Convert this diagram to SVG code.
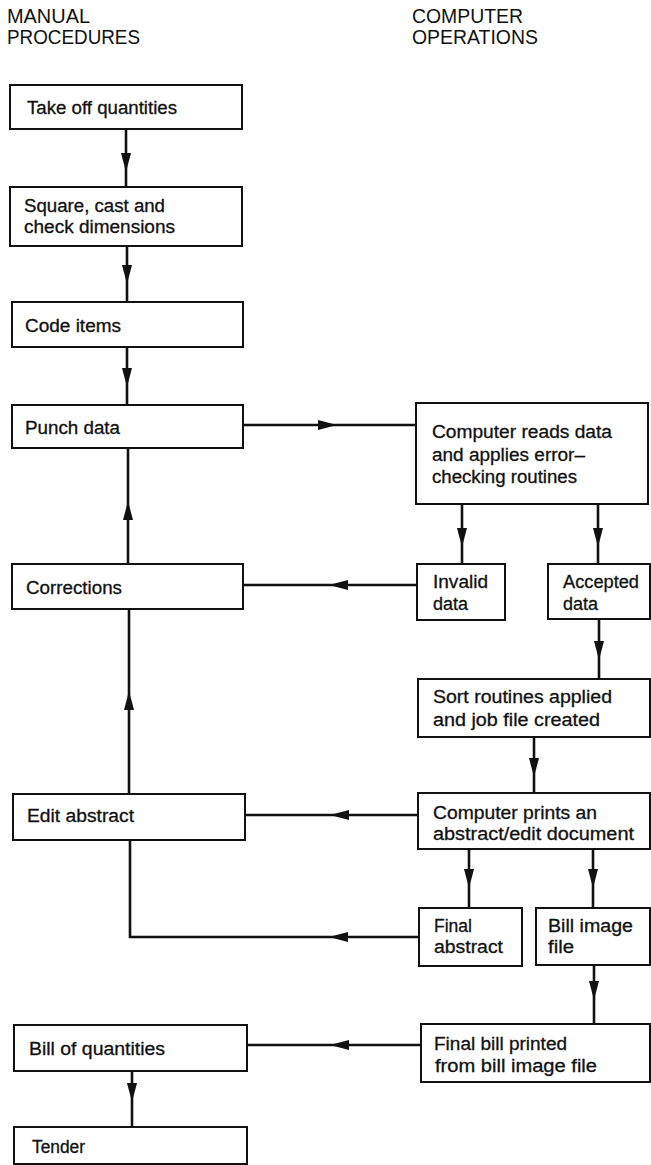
<svg xmlns="http://www.w3.org/2000/svg" xmlns:xlink="http://www.w3.org/1999/xlink" width="651" height="1165" viewBox="0 0 651 1165">
  <style>
    .box { fill: #ffffff; stroke: #111111; stroke-width: 2; }
    .lbl { font-family: "Liberation Sans", Arial, sans-serif; font-size: 18px; fill: #111111; stroke: #111111; stroke-width: 0.3; }
    .hdr { font-family: "Liberation Sans", Arial, sans-serif; font-size: 20px; fill: #111111; }
    .wire { fill: none; stroke: #111111; stroke-width: 2.6; }
    .head { fill: #111111; }
  </style>
  <defs>
    <!-- slim filled arrowhead, tip at the origin, pointing along +x -->
    <path id="ah" d="M0,0 L-19,-5 L-19,5 Z"/>
  </defs>
  <rect width="651" height="1165" fill="#ffffff"/>

  <!-- column headings -->
  <g id="heading-manual">
    <text class="hdr" x="7" y="23" textLength="83" lengthAdjust="spacingAndGlyphs">MANUAL</text>
    <text class="hdr" x="7" y="44" textLength="133" lengthAdjust="spacingAndGlyphs">PROCEDURES</text>
  </g>
  <g id="heading-computer">
    <text class="hdr" x="412" y="23" textLength="111" lengthAdjust="spacingAndGlyphs">COMPUTER</text>
    <text class="hdr" x="412" y="44" textLength="126" lengthAdjust="spacingAndGlyphs">OPERATIONS</text>
  </g>

  <!-- connectors -->
  <g id="connectors">
    <path class="wire" d="M126,129 V187"/>
    <path class="wire" d="M127,246 V302"/>
    <path class="wire" d="M127,347 V405"/>
    <path class="wire" d="M243,425 H416"/>
    <path class="wire" d="M128,564 V448"/>
    <path class="wire" d="M417,585 H243"/>
    <path class="wire" d="M462,504 V564"/>
    <path class="wire" d="M598,504 V564"/>
    <path class="wire" d="M599,619 V679"/>
    <path class="wire" d="M534,737 V793"/>
    <path class="wire" d="M418,815 H245"/>
    <path class="wire" d="M129,794 V609"/>
    <path class="wire" d="M469,849 V908"/>
    <path class="wire" d="M593,849 V908"/>
    <path class="wire" d="M419,937 H130 V840"/>
    <path class="wire" d="M594,965 V1024"/>
    <path class="wire" d="M421,1045 H247"/>
    <path class="wire" d="M132,1071 V1127"/>

    <use href="#ah" class="head" transform="translate(126,172) rotate(90)"/>
    <use href="#ah" class="head" transform="translate(127,284) rotate(90)"/>
    <use href="#ah" class="head" transform="translate(127,387) rotate(90)"/>
    <use href="#ah" class="head" transform="translate(337,425)"/>
    <use href="#ah" class="head" transform="translate(128,501) rotate(-90)"/>
    <use href="#ah" class="head" transform="translate(329,585) rotate(180)"/>
    <use href="#ah" class="head" transform="translate(462,547) rotate(90)"/>
    <use href="#ah" class="head" transform="translate(598,547) rotate(90)"/>
    <use href="#ah" class="head" transform="translate(599,660) rotate(90)"/>
    <use href="#ah" class="head" transform="translate(534,777) rotate(90)"/>
    <use href="#ah" class="head" transform="translate(330,815) rotate(180)"/>
    <use href="#ah" class="head" transform="translate(129,691) rotate(-90)"/>
    <use href="#ah" class="head" transform="translate(469,888) rotate(90)"/>
    <use href="#ah" class="head" transform="translate(593,888) rotate(90)"/>
    <use href="#ah" class="head" transform="translate(329,937) rotate(180)"/>
    <use href="#ah" class="head" transform="translate(594,1000) rotate(90)"/>
    <use href="#ah" class="head" transform="translate(330,1045) rotate(180)"/>
    <use href="#ah" class="head" transform="translate(132,1102) rotate(90)"/>
  </g>

  <!-- manual procedures column -->
  <g id="take-off">
    <rect class="box" x="10" y="85" width="232" height="44"/>
    <text class="lbl" x="27" y="114" textLength="150" lengthAdjust="spacingAndGlyphs">Take off quantities</text>
  </g>
  <g id="square-cast">
    <rect class="box" x="10" y="187" width="232" height="59"/>
    <text class="lbl" x="24" y="212" textLength="141" lengthAdjust="spacingAndGlyphs">Square, cast and</text>
    <text class="lbl" x="24" y="233" textLength="151" lengthAdjust="spacingAndGlyphs">check dimensions</text>
  </g>
  <g id="code-items">
    <rect class="box" x="12" y="302" width="231" height="45"/>
    <text class="lbl" x="25" y="332" textLength="96" lengthAdjust="spacingAndGlyphs">Code items</text>
  </g>
  <g id="punch-data">
    <rect class="box" x="12" y="405" width="231" height="43"/>
    <text class="lbl" x="25" y="434" textLength="95" lengthAdjust="spacingAndGlyphs">Punch data</text>
  </g>
  <g id="corrections">
    <rect class="box" x="12" y="564" width="231" height="45"/>
    <text class="lbl" x="26" y="594" textLength="96" lengthAdjust="spacingAndGlyphs">Corrections</text>
  </g>
  <g id="edit-abstract">
    <rect class="box" x="13" y="794" width="232" height="46"/>
    <text class="lbl" x="27" y="822" textLength="107" lengthAdjust="spacingAndGlyphs">Edit abstract</text>
  </g>
  <g id="bill-of-quantities">
    <rect class="box" x="14" y="1025" width="233" height="46"/>
    <text class="lbl" x="29" y="1055" textLength="136" lengthAdjust="spacingAndGlyphs">Bill of quantities</text>
  </g>
  <g id="tender">
    <rect class="box" x="14" y="1127" width="233" height="37"/>
    <text class="lbl" x="32" y="1153" font-size="20" textLength="53" lengthAdjust="spacingAndGlyphs">Tender</text>
  </g>

  <!-- computer operations column -->
  <g id="reads-data">
    <rect class="box" x="416" y="403" width="232" height="101"/>
    <text class="lbl" x="432" y="438" textLength="180" lengthAdjust="spacingAndGlyphs">Computer reads data</text>
    <text class="lbl" x="432" y="461" textLength="153" lengthAdjust="spacingAndGlyphs">and applies error–</text>
    <text class="lbl" x="432" y="483" textLength="145" lengthAdjust="spacingAndGlyphs">checking routines</text>
  </g>
  <g id="invalid-data">
    <rect class="box" x="417" y="564" width="88" height="56"/>
    <text class="lbl" x="433" y="588" textLength="55" lengthAdjust="spacingAndGlyphs">Invalid</text>
    <text class="lbl" x="433" y="610" textLength="35" lengthAdjust="spacingAndGlyphs">data</text>
  </g>
  <g id="accepted-data">
    <rect class="box" x="548" y="564" width="102" height="55"/>
    <text class="lbl" x="563" y="588" textLength="76" lengthAdjust="spacingAndGlyphs">Accepted</text>
    <text class="lbl" x="563" y="610" textLength="35" lengthAdjust="spacingAndGlyphs">data</text>
  </g>
  <g id="sort-routines">
    <rect class="box" x="418" y="679" width="232" height="58"/>
    <text class="lbl" x="433" y="703" textLength="179" lengthAdjust="spacingAndGlyphs">Sort routines applied</text>
    <text class="lbl" x="433" y="726" textLength="167" lengthAdjust="spacingAndGlyphs">and job file created</text>
  </g>
  <g id="prints-abstract">
    <rect class="box" x="418" y="793" width="232" height="56"/>
    <text class="lbl" x="433" y="819" textLength="164" lengthAdjust="spacingAndGlyphs">Computer prints an</text>
    <text class="lbl" x="433" y="840" textLength="201" lengthAdjust="spacingAndGlyphs">abstract/edit document</text>
  </g>
  <g id="final-abstract">
    <rect class="box" x="419" y="908" width="103" height="58"/>
    <text class="lbl" x="434" y="932" textLength="38" lengthAdjust="spacingAndGlyphs">Final</text>
    <text class="lbl" x="434" y="953" textLength="69" lengthAdjust="spacingAndGlyphs">abstract</text>
  </g>
  <g id="bill-image-file">
    <rect class="box" x="536" y="908" width="114" height="57"/>
    <text class="lbl" x="548" y="932" textLength="85" lengthAdjust="spacingAndGlyphs">Bill image</text>
    <text class="lbl" x="548" y="953" textLength="26" lengthAdjust="spacingAndGlyphs">file</text>
  </g>
  <g id="final-bill">
    <rect class="box" x="421" y="1024" width="229" height="58"/>
    <text class="lbl" x="434" y="1050" textLength="133" lengthAdjust="spacingAndGlyphs">Final bill printed</text>
    <text class="lbl" x="435" y="1072" textLength="162" lengthAdjust="spacingAndGlyphs">from bill image file</text>
  </g>
</svg>
